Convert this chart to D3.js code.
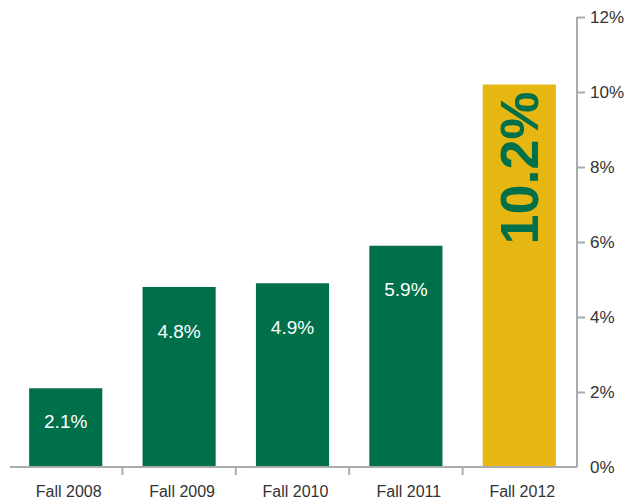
<!DOCTYPE html>
<html>
<head>
<meta charset="utf-8">
<script src="https://cdn.jsdelivr.net/npm/d3@7"></script>
<style>
  body { margin: 0; background: #fff; }
  svg { display: block; font-family: "Liberation Sans", Arial, Helvetica, sans-serif; }
</style>
</head>
<body>
<div id="chart"></div>
<script>
// chart data
var terms = ["Fall 2008", "Fall 2009", "Fall 2010", "Fall 2011", "Fall 2012"];
var rates = [2.1, 4.8, 4.9, 5.9, 10.2];
var rateLabels = ["2.1%", "4.8%", "4.9%", "5.9%", "10.2%"];
var yTicks = [0, 2, 4, 6, 8, 10, 12];

var width = 630, height = 504;
var green = "#00704a", gold = "#e6b712", axisGrey = "#a9abae", textGrey = "#333";

var svg = d3.select("#chart").append("svg")
  .attr("width", width)
  .attr("height", height);

// scales
var x = d3.scaleBand()
  .domain(terms)
  .range([9, 576])
  .paddingInner(0.355)
  .paddingOuter(0.1775);

var y = d3.scaleLinear()
  .domain([0, 12])
  .range([467, 17]);

var axisX = 577;

// bars
svg.selectAll("rect.bar")
  .data(terms)
  .enter().append("rect")
  .attr("class", "bar")
  .attr("x", function(d) { return x(d); })
  .attr("y", function(d, i) { return y(rates[i]); })
  .attr("width", x.bandwidth())
  .attr("height", function(d, i) { return y(0) - y(rates[i]); })
  .attr("fill", function(d, i) { return i == terms.length - 1 ? gold : green; });

// small value labels inside the green bars
svg.selectAll("text.val")
  .data(terms.slice(0, 4))
  .enter().append("text")
  .attr("class", "val")
  .attr("x", function(d) { return x(d) + x.bandwidth() / 2; })
  .attr("y", function(d, i) {
    var top = y(rates[i]);
    var h = y(0) - top;
    return top + Math.min(44, h * 0.42);
  })
  .attr("dy", "0.35em")
  .attr("text-anchor", "middle")
  .attr("fill", "#fff")
  .style("font-size", "19px")
  .text(function(d, i) { return rateLabels[i]; });

// big rotated label on the last bar
var last = terms.length - 1;
var cx = x(terms[last]) + x.bandwidth() / 2;
svg.append("text")
  .attr("transform", "translate(" + (cx + 19) + "," + 168 + ") rotate(-90)")
  .attr("text-anchor", "middle")
  .attr("fill", green)
  .style("font-size", "54px")
  .style("font-weight", "bold")
  .text(rateLabels[last]);

// baseline + category ticks
svg.append("line")
  .attr("x1", 10).attr("x2", axisX)
  .attr("y1", y(0)).attr("y2", y(0))
  .attr("stroke", axisGrey).attr("stroke-width", 2);

svg.selectAll("line.xtick")
  .data(terms.slice(1))
  .enter().append("line")
  .attr("class", "xtick")
  .attr("x1", function(d) { return x(d) - x.step() * x.paddingInner() / 2; })
  .attr("x2", function(d) { return x(d) - x.step() * x.paddingInner() / 2; })
  .attr("y1", y(0)).attr("y2", y(0) + 8)
  .attr("stroke", axisGrey).attr("stroke-width", 2);

svg.selectAll("text.xlab")
  .data(terms)
  .enter().append("text")
  .attr("class", "xlab")
  .attr("x", function(d) { return x(d) + x.bandwidth() / 2 + 3; })
  .attr("y", 497)
  .attr("text-anchor", "middle")
  .attr("fill", textGrey)
  .style("font-size", "16px")
  .text(function(d) { return d; });

// right-hand y axis
var yAxis = d3.axisRight(y)
  .tickValues(yTicks)
  .tickSize(8)
  .tickPadding(5)
  .tickFormat(function(d) { return d + "%"; });

var g = svg.append("g")
  .attr("transform", "translate(" + axisX + ",0)")
  .call(yAxis);

g.select(".domain")
  .attr("d", "M0," + y(12) + "V" + y(0))
  .attr("stroke", axisGrey).attr("stroke-width", 2);
g.selectAll(".tick line").attr("stroke", axisGrey).attr("stroke-width", 2);
g.selectAll(".tick").filter(function(d) { return d == 0; }).select("line").remove();
g.selectAll(".tick text")
  .attr("fill", textGrey)
  .style("font-size", "17px")
  .style("font-family", "'Liberation Sans', Arial, sans-serif");
</script>
</body>
</html>
